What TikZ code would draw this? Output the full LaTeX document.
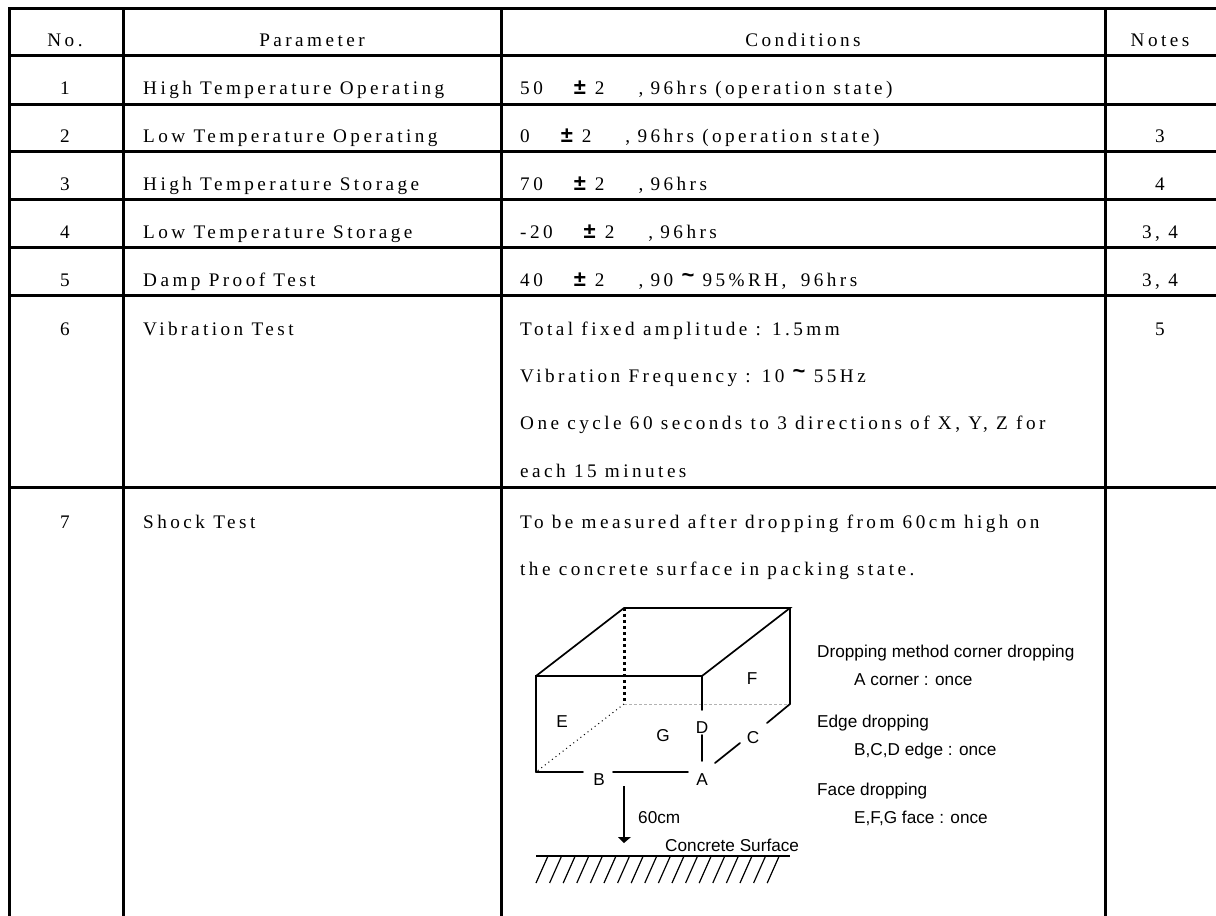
\documentclass[tikz,border=0pt]{standalone}
\usepackage{fontspec}
\setmainfont{Liberation Serif}
\setsansfont{Liberation Sans}
\newfontfamily\tabfont[LetterSpace=18]{Liberation Serif}
\newcommand{\plusminus}{{\sffamily\bfseries\fontsize{22}{22}\selectfont\char"00B1}}
\newcommand{\tildemark}{\raisebox{4pt}{\sffamily\bfseries\fontsize{22}{22}\selectfont\char"007E}}
\newcommand{\tolgap}{\hspace{31pt}\plusminus\hspace{9pt}2\hspace{34pt},\hspace{-1pt}}

\begin{document}
\begin{tikzpicture}[x=1pt,y=-1pt,
		rule/.style={line width=3pt,line cap=rect},
		edge/.style={line width=1.7pt,line cap=round},
		cell/.style={inner sep=0pt,anchor=base west,font=\tabfont\fontsize{19.2}{19.2}\selectfont},
		mid/.style={inner sep=0pt,anchor=base,font=\tabfont\fontsize{19.2}{19.2}\selectfont},
		letter/.style={inner sep=0pt,anchor=base,font=\sffamily\fontsize{17.2}{17.2}\selectfont},
		note/.style={inner sep=0pt,anchor=base west,font=\sffamily\fontsize{17.2}{17.2}\selectfont}]
	\useasboundingbox (0,0) rectangle (1216,916);
	\fill [white] (0,0) rectangle (1216,916);
	% table rules
	\draw [rule] (9,8) -- (1216,8)
				 (9,55) -- (1216,55)
				 (9,104) -- (1216,104)
				 (9,151) -- (1216,151)
				 (9,199) -- (1216,199)
				 (9,247) -- (1216,247)
				 (9,295) -- (1216,295)
				 (9,487) -- (1216,487);
	\draw [rule] (9,8) -- (9,916)
				 (123,8) -- (123,916)
				 (501,8) -- (501,916)
				 (1105,8) -- (1105,916);
	% header
	\node (hno) at (65,46) [mid] {No.};
	\node (hpar) at (312,46) [mid] {Parameter};
	\node (hcon) at (803,46) [mid] {Conditions};
	\node (hnot) at (1160,46) [mid] {Notes};
	% numbers
	\node (n1) at (65,94) [mid] {1};
	\node (n2) at (65,142) [mid] {2};
	\node (n3) at (65,190) [mid] {3};
	\node (n4) at (65,238) [mid] {4};
	\node (n5) at (65,286) [mid] {5};
	\node (n6) at (65,335) [mid] {6};
	\node (n7) at (65,528) [mid] {7};
	% parameters
	\node (p1) at (143,94) [cell] {High Temperature Operating};
	\node (p2) at (143,142) [cell] {Low Temperature Operating};
	\node (p3) at (143,190) [cell] {High Temperature Storage};
	\node (p4) at (143,238) [cell] {Low Temperature Storage};
	\node (p5) at (143,286) [cell] {Damp Proof Test};
	\node (p6) at (143,335) [cell] {Vibration Test};
	\node (p7) at (143,528) [cell] {Shock Test};
	% conditions
	\node (c1) at (520,94) [cell] {50\tolgap\ 96hrs (operation state)};
	\node (c2) at (520,142) [cell] {0\tolgap\ 96hrs (operation state)};
	\node (c3) at (520,190) [cell] {70\tolgap\ 96hrs};
	\node (c4) at (520,238) [cell] {-20\tolgap\ 96hrs};
	\node (c5) at (520,286) [cell] {40\tolgap\ 90 \tildemark\ 95\%RH,\hspace{6pt} 96hrs};
	\node (c6a) at (520,335) [cell] {Total fixed amplitude : 1.5mm};
	\node (c6b) at (520,382) [cell] {Vibration Frequency : 10 \tildemark\ 55Hz};
	\node (c6c) at (520,429) [cell] {One cycle 60 seconds to 3 directions of X, Y, Z for};
	\node (c6d) at (520,477) [cell] {each 15 minutes};
	\node (c7a) at (520,528) [cell] {To be measured after dropping from 60cm high on};
	\node (c7b) at (520,575) [cell] {the concrete surface in packing state.};
	% notes
	\node (m2) at (1160,142) [mid] {3};
	\node (m3) at (1160,190) [mid] {4};
	\node (m4) at (1160,238) [mid] {3, 4};
	\node (m5) at (1160,286) [mid] {3, 4};
	\node (m6) at (1160,335) [mid] {5};
	% box corners
	\coordinate (ftl) at (536,676);
	\coordinate (ftr) at (702,676);
	\coordinate (fbl) at (536,772);
	\coordinate (btl) at (624,608);
	\coordinate (btr) at (790,608);
	\coordinate (bbl) at (624,704);
	\coordinate (bbr) at (790,704);
	% box labels
	\node (A) at (702,785) [letter] {A};
	\node (B) at (599,785) [letter] {B};
	\node (C) at (753,743) [letter] {C};
	\node (D) at (702,733) [letter] {D};
	\node (E) at (562,727) [letter] {E};
	\node (F) at (752,684) [letter] {F};
	\node (G) at (663,741) [letter] {G};
	\draw [edge] (fbl) -- (ftl) -- (ftr);
	\draw [edge] (ftl) -- (btl) -- (btr) -- (ftr);
	\draw [edge] (btr) -- (bbr);
	\draw [line width=3pt,dash pattern=on 3pt off 3pt] (btl) -- (bbl);
	\draw [densely dashed,gray!60,line width=0.5pt] (bbl) -- (bbr);
	\draw [line width=1pt,dash pattern=on 1pt off 3.5pt] (bbl) -- (fbl);
	\coordinate (ds) at (702,710);
	\coordinate (de) at (702,761);
	\draw [edge] (ftr) -- (ds);
	\draw [edge] (702,735) -- (de);
	\draw [edge] (fbl) -- (583,772);
	\draw [edge] (613,772) -- (688,772);
	\draw [edge] (715,763) -- (740,743);
	\draw [edge] (767,723) -- (bbr);
	% drop arrow
	\coordinate (top) at (624,786);
	\coordinate (tip) at (624,843);
	\draw [line width=1.7pt] (top) -- (624,837);
	\fill (618,837) -- (631,837) -- (tip) -- cycle;
	\node (drop) at (638,823) [note] {60cm};
	\node (surf) at (665,851) [note] {Concrete Surface};
	% ground
	\draw [line width=1.7pt] (536,856) -- (790,856);
	\foreach \x in {0,...,17}
		\draw [line width=1.2pt] (548+\x*13.6,856) -- (536+\x*13.6,883);
	% dropping notes
	\node (d1) at (817,657) [note] {Dropping method corner dropping};
	\node (d2) at (854,685) [note] {A corner : once};
	\node (d3) at (817,727) [note] {Edge dropping};
	\node (d4) at (854,755) [note] {B,C,D edge : once};
	\node (d5) at (817,795) [note] {Face dropping};
	\node (d6) at (854,823) [note] {E,F,G face : once};
\end{tikzpicture}
\end{document}
